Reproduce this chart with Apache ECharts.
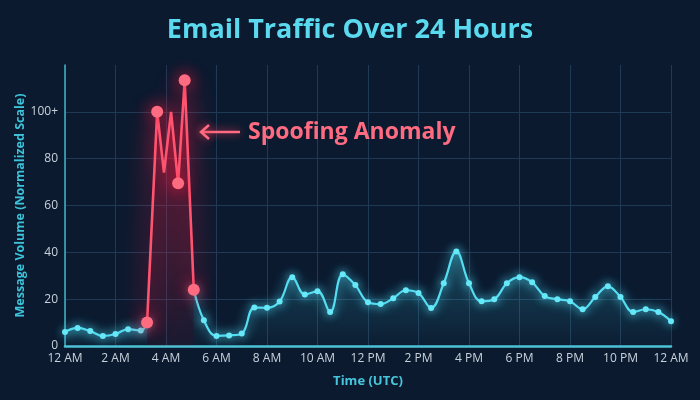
<!DOCTYPE html>
<html><head><meta charset="utf-8">
<script src="https://cdn.jsdelivr.net/npm/echarts@6/dist/echarts.min.js"></script>
<style>html,body{margin:0;padding:0;background:#0b1a2f}#c{width:700px;height:400px}</style>
</head><body><div id="c"></div>
<script>
const hoursBefore = [0, 0.5, 1, 1.5, 2, 2.5, 3, 3.25];
const volumeBefore = [6, 7.7, 6.4, 4.3, 5.1, 7.2, 6.6, 10];
const hoursAnomaly = [3.25, 3.65, 3.92, 4.2, 4.48, 4.74, 5.1];
const volumeAnomaly = [10, 100, 74, 100, 69.5, 113.5, 24];
const anomalyMarked = [true, true, false, false, true, true, true];
const hoursAfter = [5.1, 5.5, 6, 6.5, 7, 7.5, 8, 8.5, 9, 9.5, 10, 10.5, 11, 11.5, 12, 12.5, 13, 13.5, 14, 14.5, 15, 15.5, 16, 16.5, 17, 17.5, 18, 18.5, 19, 19.5, 20, 20.5, 21, 21.5, 22, 22.5, 23, 23.5, 24];
const volumeAfter = [24, 11, 4.3, 4.5, 5.3, 16.4, 16.3, 19, 29.4, 22, 23.4, 14.5, 30.6, 26, 18.7, 17.9, 20.4, 23.8, 22.6, 16.2, 26.8, 40.4, 26.8, 19.1, 20, 26.8, 29.4, 27.2, 21.3, 20, 19.1, 15.7, 20.9, 25.5, 20.9, 14.5, 15.7, 14.5, 10.6];
const xTickLabels = ['12 AM', '2 AM', '4 AM', '6 AM', '8 AM', '10 AM', '12 PM', '2 PM', '4 PM', '6 PM', '8 PM', '10 PM', '12 AM'];
const yTickLabels = ['0', '20', '40', '60', '80', '100+', ''];
const titleText = 'Email Traffic Over 24 Hours';
const annotationText = 'Spoofing Anomaly';

const FONT = '"Open Sans", Lato, sans-serif';
const pair = (xs, ys) => xs.map((x, i) => [x, ys[i]]);

const cyanLine = {
  type: 'line', smooth: 0.4, symbol: 'circle', symbolSize: 6,
  lineStyle: { width: 2.2, color: '#55def2', shadowBlur: 12, shadowColor: 'rgba(80,220,245,1)' },
  itemStyle: { color: '#66e8f8', shadowBlur: 8, shadowColor: 'rgba(80,220,245,0.9)' },
  areaStyle: {
    color: new echarts.graphic.LinearGradient(0, 0, 0, 1, [
      { offset: 0, color: 'rgba(60,190,215,0.40)' },
      { offset: 1, color: 'rgba(60,190,215,0.03)' }
    ]),
    origin: 'start'
  },
  z: 3
};

const chart = echarts.init(document.getElementById('c'), null, { renderer: 'canvas' });
chart.setOption({
  backgroundColor: '#0b1a2f',
  animation: false,
  title: {
    text: titleText, left: 'center', top: 12,
    textStyle: { color: '#5ad9ef', fontSize: 27, fontWeight: 'bold', fontFamily: FONT }
  },
  grid: { left: 65, right: 29, top: 65, bottom: 54 },
  xAxis: {
    type: 'value', min: 0, max: 24, interval: 2,
    name: 'Time (UTC)', nameLocation: 'middle', nameGap: 29,
    nameTextStyle: { color: '#46c6dc', fontSize: 13, fontWeight: 'bold', fontFamily: FONT },
    axisLine: { show: true, lineStyle: { color: '#4cc3d6', width: 2.5 } },
    axisTick: { show: false },
    axisLabel: { color: '#c9d2dc', fontSize: 12, fontFamily: FONT, margin: 7,
      formatter: v => xTickLabels[Math.round(v / 2)] },
    splitLine: { show: true, lineStyle: { color: '#1f3a55', width: 1 } }
  },
  yAxis: {
    type: 'value', min: 0, max: 120, interval: 20,
    name: 'Message Volume (Normalized Scale)', nameLocation: 'middle', nameGap: 38,
    nameMoveOverlap: false,
    nameTextStyle: { color: '#3cc3da', fontSize: 12.5, fontWeight: 'bold', fontFamily: FONT },
    axisLine: { show: true, lineStyle: { color: '#3fb6c9', width: 1.5 } },
    axisTick: { show: false },
    axisLabel: { color: '#c9d2dc', fontSize: 12, fontFamily: FONT, margin: 7,
      formatter: v => yTickLabels[Math.round(v / 20)] },
    splitLine: { show: true, lineStyle: { color: ['#1f3a55', '#1f3a55', '#1f3a55', '#1f3a55', '#1f3a55', '#1f3a55', 'rgba(0,0,0,0)'], width: 1 } }
  },
  graphic: [
    { type: 'line', shape: { x1: 202, y1: 132, x2: 240, y2: 132 },
      style: { stroke: '#ff6b80', lineWidth: 2.5, shadowBlur: 8, shadowColor: 'rgba(255,60,90,0.9)' }, z: 10 },
    { type: 'polyline', shape: { points: [[209, 125], [201, 132], [209, 139]] },
      style: { stroke: '#ff6b80', fill: null, lineWidth: 2.5, shadowBlur: 8, shadowColor: 'rgba(255,60,90,0.9)' }, z: 10 },
    { type: 'text', x: 248, y: 132,
      style: { text: annotationText, fill: '#ff6b80', font: 'bold 23px ' + FONT, textVerticalAlign: 'middle',
        shadowBlur: 10, shadowColor: 'rgba(255,50,80,0.9)' }, z: 10 }
  ],
  series: [
    Object.assign({}, cyanLine, { data: pair(hoursBefore, volumeBefore) }),
    Object.assign({}, cyanLine, { data: pair(hoursAfter, volumeAfter) }),
    {
      type: 'line', smooth: false, symbol: 'circle',
      data: hoursAnomaly.map((x, i) => ({ value: [x, volumeAnomaly[i]], symbolSize: anomalyMarked[i] ? 12 : 0 })),
      lineStyle: { width: 2.6, color: '#ff5470', shadowBlur: 25, shadowColor: 'rgba(255,25,65,1)' },
      itemStyle: { color: '#ff6b80', shadowBlur: 16, shadowColor: 'rgba(255,25,65,1)' },
      areaStyle: {
        color: new echarts.graphic.LinearGradient(0, 0, 0, 1, [
          { offset: 0, color: 'rgba(255,30,70,0.38)' },
          { offset: 1, color: 'rgba(255,30,70,0.07)' }
        ]),
        origin: 'start',
        shadowBlur: 40, shadowColor: 'rgba(255,30,70,0.6)'
      },
      z: 5
    }
  ]
});
</script></body></html>
